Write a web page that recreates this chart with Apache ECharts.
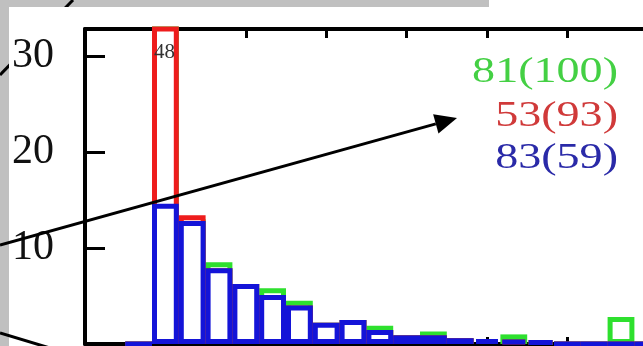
<!DOCTYPE html>
<html>
<head>
<meta charset="utf-8">
<script src="https://cdn.jsdelivr.net/npm/echarts@6/dist/echarts.min.js"></script>
<style>
html,body{margin:0;padding:0;background:#c0c0c0;}
#c{width:643px;height:346px;}
</style>
</head>
<body>
<div id="c"></div>
<script>
// bin categories (bins centred on integer values)
const cats = ['0','1','2','3','4','5','6','7','8','9','10','11','12','13','14','15','16','17','18','19','20','21','22','23','24'];
// series values per bin
const greenVals = ['-','-',0,48,13,8.5,6.25,5.8,4.5,2.2,2.5,1.9,0.9,1.3,0.6,0.5,1.0,0.3,0,0,2.8,0,0,0,0];
const redVals   = ['-','-',0,48,13.4,7.9,6.25,5.1,4.0,2.2,2.5,1.45,0.9,0.9,0.6,0.5,0.4,0.3,0,0,0,0,0,0,0];
const blueVals  = ['-','-',0,14.6,12.8,7.9,6.25,5.1,4.0,2.2,2.5,1.45,0.9,0.9,0.6,0.5,0.4,0.3,0,0,0,0,0,0,0];
// legend texts
const legendTexts = ['81(100)','53(93)','83(59)'];
const overflowBin = 3;

const chart = echarts.init(document.getElementById('c'), null, {renderer:'canvas'});
const serif = '"Liberation Serif", "Times New Roman", serif';
const barW = 26.8;
function barSeries(name, data, color){
  return {
    name, type:'bar', data, barWidth: barW, barGap:'-100%',
    xAxisIndex:0, yAxisIndex:0,
    itemStyle:{color:'#ffffff', borderColor:color, borderWidth:5},
    emphasis:{disabled:true}, animation:false
  };
}
const option = {
  backgroundColor:'#c0c0c0',
  animation:false,
  grid:{left:85, top:29, width:643.2, height:315, containLabel:false, outerBoundsMode:'none'},
  xAxis:[
    {type:'category', data:cats, boundaryGap:false, position:'bottom',
     axisLine:{lineStyle:{color:'#000', width:4}},
     axisTick:{inside:true, interval:2, length:7, lineStyle:{color:'#000', width:3}},
     axisLabel:{show:false}, splitLine:{show:false}},
    {type:'category', data:cats, boundaryGap:false, position:'top',
     axisLine:{lineStyle:{color:'#000', width:4}},
     axisTick:{inside:true, interval:2, length:9, lineStyle:{color:'#000', width:3}},
     axisLabel:{show:false}, splitLine:{show:false}}
  ],
  yAxis:{type:'value', min:0, max:32.8, interval:10,
    axisLine:{show:true, lineStyle:{color:'#000', width:4}},
    axisTick:{show:true, inside:true, length:20, lineStyle:{color:'#000', width:3}},
    axisLabel:{fontFamily:serif, fontSize:42, color:'#111', margin:31,
      formatter:v => (v>0 && v%10===0) ? String(v) : ''},
    splitLine:{show:false}},
  series:[
    barSeries('green', greenVals, '#2ee02e'),
    barSeries('red', redVals, '#ee1c1c'),
    barSeries('blue', blueVals, '#1414d8')
  ],
  graphic:[]
};
chart.setOption(option);

// overlay graphics
const px = chart.convertToPixel({xAxisIndex:0, yAxisIndex:0}, [overflowBin, 0]);
const tip = [457,118], start = [0,245];
const dx = tip[0]-start[0], dy = tip[1]-start[1], L = Math.hypot(dx,dy);
const ux = dx/L, uy = dy/L, hl = 22, hw = 10;
const bx = tip[0]-hl*ux, by = tip[1]-hl*uy;
chart.setOption({graphic:[
  {type:'line', z:-20, shape:{x1:0,y1:75,x2:73,y2:0}, style:{stroke:'#000', lineWidth:3}},
  {type:'rect', z:-10, shape:{x:9,y:7,width:634,height:339}, style:{fill:'#fff'}},
  {type:'rect', z:-10, shape:{x:489,y:0,width:154,height:7}, style:{fill:'#fff'}},
  {type:'text', z:50, x:px[0]-1, y:52, style:{text:String(redVals[overflowBin]), font:'21px '+serif, fill:'#333', textAlign:'center', textVerticalAlign:'middle'}},
  {type:'text', z:50, x:618, y:73, scaleX:1.28, style:{text:legendTexts[0], font:'36px '+serif, fill:'#44d044', textAlign:'right', textVerticalAlign:'middle'}},
  {type:'text', z:50, x:618, y:117, scaleX:1.28, style:{text:legendTexts[1], font:'36px '+serif, fill:'#d03a3a', textAlign:'right', textVerticalAlign:'middle'}},
  {type:'text', z:50, x:618, y:159, scaleX:1.28, style:{text:legendTexts[2], font:'36px '+serif, fill:'#2a2aa8', textAlign:'right', textVerticalAlign:'middle'}},
  {type:'line', z:100, shape:{x1:start[0],y1:start[1],x2:bx,y2:by}, style:{stroke:'#000', lineWidth:3}},
  {type:'polygon', z:100, shape:{points:[[tip[0],tip[1]],[bx+hw*uy, by-hw*ux],[bx-hw*uy, by+hw*ux]]}, style:{fill:'#000'}},
  {type:'line', z:100, shape:{x1:0,y1:333,x2:50,y2:348}, style:{stroke:'#000', lineWidth:3}}
]});
</script>
</body>
</html>
